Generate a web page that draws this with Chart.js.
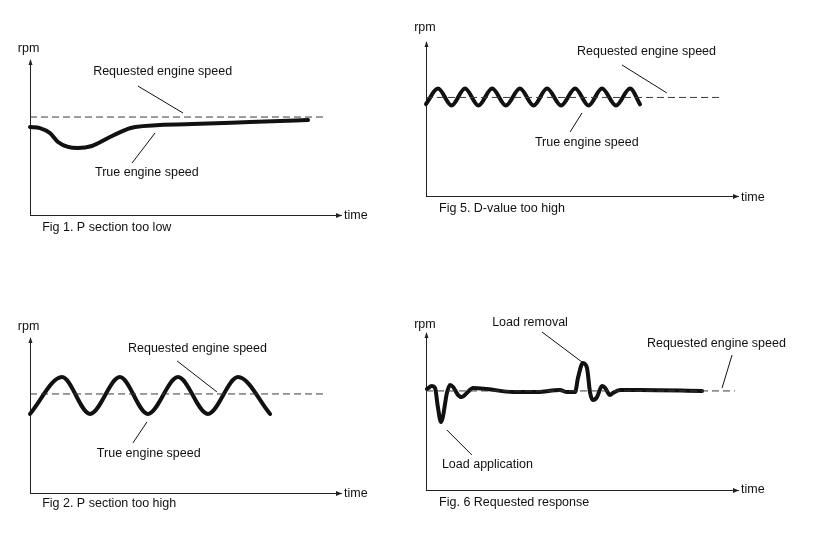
<!DOCTYPE html>
<html>
<head>
<meta charset="utf-8">
<title>Engine speed response</title>
<script src="https://cdn.jsdelivr.net/npm/chart.js@4.4.1/dist/chart.umd.min.js"></script>
<style>
    html, body { margin: 0; padding: 0; background: #fff; }
    #wrap { position: relative; width: 815px; height: 545px; }
    #wrap canvas { position: absolute; left: 0; top: 0; }
</style>
</head>
<body>
<div id="wrap">
    <canvas id="fig1" width="815" height="545"></canvas>
    <canvas id="fig5" width="815" height="545"></canvas>
    <canvas id="fig2" width="815" height="545"></canvas>
    <canvas id="fig6" width="815" height="545"></canvas>
</div>
<script>
// time and rpm on a 0..100 scale for every figure

// Fig 1. P section too low
const fig1Time = [0, 3.2, 6.4, 9.0, 12.2, 15.4, 19.9, 25.1, 30.5, 33.8, 52.1, 70.7, 89.4];
const fig1Rpm  = [56.8, 56.1, 52.9, 47.1, 43.9, 43.2, 44.5, 49.7, 54.8, 56.8, 58.7, 60.0, 61.3];
const fig1ReqTime = [0, 94.9];
const fig1ReqRpm  = [63.2, 63.2];

// Fig 5. D-value too high
const fig5Time = [0, 3.85, 8.2, 12.5, 16.8, 21.2, 25.6, 30.1, 34.5, 38.8, 43.3, 47.8, 52.1, 56.4, 60.9, 65.4, 68.6];
const fig5Rpm  = [59.7, 69.8, 58.8, 69.8, 58.8, 69.8, 58.8, 69.8, 58.8, 69.8, 58.8, 69.8, 58.8, 69.8, 58.8, 69.8, 59.5];
const fig5ReqTime = [0, 94.2];
const fig5ReqRpm  = [64.0, 64.0];

// Fig 2. P section too high
const fig2Time = [0, 10.3, 19.3, 28.9, 37.9, 47.6, 57.2, 66.9, 77.2];
const fig2Rpm  = [51.0, 74.8, 51.0, 74.8, 51.0, 74.8, 51.0, 74.8, 51.0];
const fig2ReqTime = [0, 94.9];
const fig2ReqRpm  = [63.9, 63.9];

// Fig. 6 Requested response
const fig6Time = [0.3, 1.9, 2.9, 3.8, 4.8, 5.4, 6.7, 7.7, 8.7, 10.3, 11.5, 13.1, 15.1, 19.6, 27.9, 35.6, 42.9, 45.2, 47.8,
                  48.7, 50.3, 51.6, 52.6, 53.5, 54.8, 56.4, 57.4, 59.0, 59.9, 62.2, 68.6, 88.5];
const fig6Rpm  = [64.3, 66.2, 65.0, 52.9, 43.3, 46.5, 61.8, 66.9, 65.6, 60.5, 59.2, 61.8, 65.0, 64.3, 62.4, 62.4, 63.7, 62.4, 62.4,
                  71.3, 80.9, 77.7, 61.8, 57.3, 59.2, 66.2, 65.0, 60.5, 61.8, 63.7, 63.7, 63.1];
const fig6ReqTime = [0, 99];
const fig6ReqRpm  = [63.1, 63.1];

const FONT = '12.5px "Liberation Sans", Arial, sans-serif';

function points(xs, ys) {
    return xs.map((x, i) => ({x: x, y: ys[i]}));
}

// axis arrows, leader lines and texts
const sketchPlugin = {
    id: 'sketch',
    afterDraw(chart, args, opts) {
        const ctx = chart.ctx;
        const xs = chart.scales.x;
        const ys = chart.scales.y;
        const a = chart.chartArea;

        ctx.save();
        ctx.fillStyle = '#222';
        ctx.beginPath();
        ctx.moveTo(a.right + 1, a.bottom + 0.5);
        ctx.lineTo(a.right - 5, a.bottom - 2);
        ctx.lineTo(a.right - 5, a.bottom + 3);
        ctx.closePath();
        ctx.fill();
        ctx.beginPath();
        ctx.moveTo(a.left + 0.5, a.top - 1);
        ctx.lineTo(a.left - 1.5, a.top + 5);
        ctx.lineTo(a.left + 2.5, a.top + 5);
        ctx.closePath();
        ctx.fill();

        ctx.strokeStyle = '#111';
        ctx.lineWidth = 1;
        (opts.leaders || []).forEach(l => {
            ctx.beginPath();
            ctx.moveTo(xs.getPixelForValue(l[0]), ys.getPixelForValue(l[1]));
            ctx.lineTo(xs.getPixelForValue(l[2]), ys.getPixelForValue(l[3]));
            ctx.stroke();
        });

        ctx.font = FONT;
        ctx.fillStyle = '#111';
        ctx.textAlign = 'left';
        ctx.textBaseline = 'middle';
        (opts.labels || []).forEach(t => {
            ctx.fillText(t.text, xs.getPixelForValue(t.x), ys.getPixelForValue(t.y));
        });
        ctx.restore();
    }
};

function axis() {
    return {
        type: 'linear',
        min: 0,
        max: 100,
        grid: {display: false, drawTicks: false},
        ticks: {display: false},
        border: {display: true, color: '#222', width: 1}
    };
}

function makeFigure(id, pad, trueTime, trueRpm, reqTime, reqRpm, labels, leaders) {
    return new Chart(document.getElementById(id), {
        type: 'line',
        data: {
            datasets: [
                {
                    label: 'Requested engine speed',
                    data: points(reqTime, reqRpm),
                    borderColor: '#3a3a3a',
                    borderWidth: 1,
                    borderDash: [7, 4],
                    pointRadius: 0,
                    clip: false
                },
                {
                    label: 'True engine speed',
                    data: points(trueTime, trueRpm),
                    borderColor: '#111',
                    borderWidth: 4,
                    cubicInterpolationMode: 'monotone',
                    borderCapStyle: 'round',
                    borderJoinStyle: 'round',
                    pointRadius: 0,
                    clip: false
                }
            ]
        },
        options: {
            responsive: false,
            animation: false,
            events: [],
            layout: {padding: pad},
            scales: {x: axis(), y: axis()},
            plugins: {
                legend: {display: false},
                tooltip: {enabled: false},
                sketch: {labels: labels, leaders: leaders}
            }
        },
        plugins: [sketchPlugin]
    });
}

makeFigure('fig1', {left: 30, top: 60, right: 474, bottom: 330},
    fig1Time, fig1Rpm, fig1ReqTime, fig1ReqRpm,
    [
        {text: 'rpm', x: -3.9, y: 107.7},
        {text: 'Requested engine speed', x: 20.3, y: 92.3},
        {text: 'True engine speed', x: 20.9, y: 27.1},
        {text: 'time', x: 101, y: -0.3},
        {text: 'Fig 1. P section too low', x: 3.9, y: -8.4}
    ],
    [[34.7, 83.2, 49.2, 65.8], [40.2, 52.9, 32.8, 33.5]]);

makeFigure('fig5', {left: 426, top: 42, right: 77, bottom: 349},
    fig5Time, fig5Rpm, fig5ReqTime, fig5ReqRpm,
    [
        {text: 'rpm', x: -3.8, y: 109.7},
        {text: 'Requested engine speed', x: 48.4, y: 93.5},
        {text: 'True engine speed', x: 34.9, y: 34.4},
        {text: 'time', x: 101, y: -1},
        {text: 'Fig 5. D-value too high', x: 4.2, y: -8.4}
    ],
    [[62.8, 85.1, 77.2, 66.9], [50, 53.9, 46.2, 41.6]]);

makeFigure('fig2', {left: 30, top: 338, right: 474, bottom: 52},
    fig2Time, fig2Rpm, fig2ReqTime, fig2ReqRpm,
    [
        {text: 'rpm', x: -3.9, y: 107.1},
        {text: 'Requested engine speed', x: 31.5, y: 93.5},
        {text: 'True engine speed', x: 21.5, y: 25.2},
        {text: 'time', x: 101, y: -0.6},
        {text: 'Fig 2. P section too high', x: 3.9, y: -7.1}
    ],
    [[47.3, 85.2, 60.1, 65.2], [37.6, 45.8, 33.1, 32.3]]);

makeFigure('fig6', {left: 426, top: 333, right: 77, bottom: 55},
    fig6Time, fig6Rpm, fig6ReqTime, fig6ReqRpm,
    [
        {text: 'rpm', x: -3.8, y: 105.7},
        {text: 'Load removal', x: 21.2, y: 106.4},
        {text: 'Requested engine speed', x: 70.8, y: 93.0},
        {text: 'Load application', x: 5.1, y: 15.9},
        {text: 'time', x: 101, y: 0.6},
        {text: 'Fig. 6 Requested response', x: 4.2, y: -8.3}
    ],
    [[37.2, 100.6, 50, 81.5], [98.1, 86.0, 94.9, 65.0], [6.7, 38.2, 14.7, 22.3]]);
</script>
</body>
</html>
